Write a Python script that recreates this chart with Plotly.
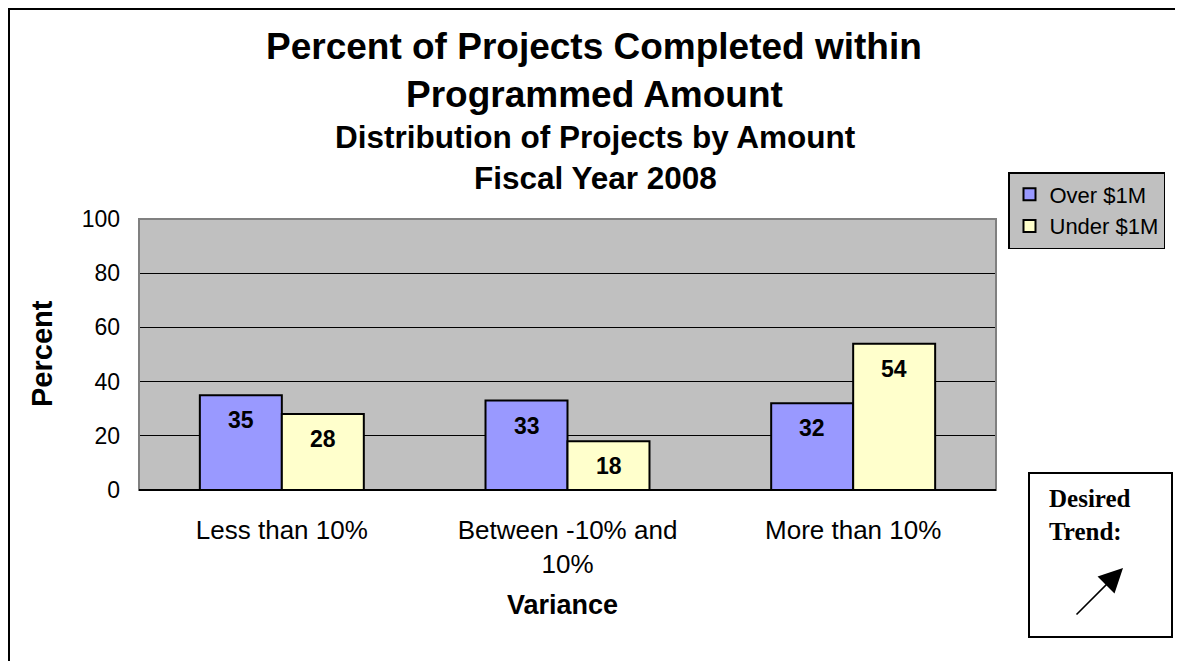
import plotly.graph_objects as go

categories = ["Less than 10%", "Between -10% and<br>10%", "More than 10%"]
over_1m = [35, 33, 32]
under_1m = [28, 18, 54]
series_names = ["Over $1M", "Under $1M"]
y_ticks = [0, 20, 40, 60, 80, 100]

OFF = 8  # page margin around the figure
W, H = 1183 - OFF, 661 - OFF
L, R, T, B = 139 - OFF, 996 - OFF, 219 - OFF, 490 - OFF
pw, ph = R - L, B - T


def px(x):
    return (x - OFF - L) / pw


def py(y):
    return (B - (y - OFF)) / ph


fig = go.Figure()
fig.add_trace(go.Bar(x=categories, y=over_1m, name=series_names[0],
                     marker=dict(color="#9999FF", line=dict(color="black", width=2))))
fig.add_trace(go.Bar(x=categories, y=under_1m, name=series_names[1],
                     marker=dict(color="#FFFFCC", line=dict(color="black", width=2))))

ann = []
for series, shift in ((over_1m, -41), (under_1m, 41)):
    for c, v in zip(categories, series):
        ann.append(dict(x=c, y=v, xref="x", yref="y", text=f"<b>{v}</b>", showarrow=False,
                        xanchor="center", yanchor="middle",
                        xshift=shift, yshift=-25, font=dict(family="Arial", size=23, color="black")))


def label(x, y, text, size, family="Arial", **kw):
    d = dict(x=px(x), y=py(y), xref="paper", yref="paper", text=text, showarrow=False,
             xanchor="center", yanchor="middle", font=dict(family=family, size=size, color="black"))
    d.update(kw)
    return d


ann += [
    label(594, 47, "<b>Percent of Projects Completed within</b>", 37),
    label(594, 94, "<b>Programmed Amount</b>", 37),
    label(595, 137, "<b>Distribution of Projects by Amount</b>", 31.5),
    label(595, 178, "<b>Fiscal Year 2008</b>", 31.5),
    label(562, 605, "<b>Variance</b>", 27),
    label(42, 354, "<b>Percent</b>", 29, textangle=-90),
    label(1047, 483, "<b>Desired<br>Trend:</b>", 25, family="Liberation Serif",
          xanchor="left", yanchor="top", align="left"),
    dict(x=px(1123), y=py(568), ax=-48, ay=48, xref="paper", yref="paper",
         axref="pixel", ayref="pixel", text="", showarrow=True, arrowhead=2, arrowsize=3,
         arrowwidth=1.6, arrowcolor="black"),
]

shapes = [
    dict(type="rect", xref="paper", yref="paper", x0=px(9), x1=px(1200), y0=py(9), y1=py(680),
         line=dict(color="black", width=2), fillcolor="rgba(0,0,0,0)", layer="below"),
    dict(type="rect", xref="paper", yref="paper", x0=px(1029), x1=px(1172), y0=py(473), y1=py(637),
         line=dict(color="black", width=2), fillcolor="white"),
    dict(type="rect", xref="paper", yref="paper", x0=0, x1=1, y0=0, y1=1,
         line=dict(color="#808080", width=2), fillcolor="rgba(0,0,0,0)", layer="above"),
    dict(type="line", xref="paper", yref="paper", x0=0, x1=1, y0=0, y1=0,
         line=dict(color="black", width=2)),
]

fig.update_layout(
    width=W, height=H,
    margin=dict(l=L, r=W - R, t=T, b=H - B, pad=0),
    paper_bgcolor="white", plot_bgcolor="#C0C0C0",
    barmode="group", bargap=0.426, bargroupgap=0,
    font=dict(family="Arial", size=22, color="black"),
    showlegend=True,
    legend=dict(x=px(1008), y=py(172), xanchor="left", yanchor="top",
                bgcolor="#C0C0C0", bordercolor="black", borderwidth=1.5,
                font=dict(family="Arial", size=22, color="black"),
                itemwidth=30, tracegroupgap=0),
    annotations=ann, shapes=shapes,
    xaxis=dict(showgrid=False, showline=False, ticks="", tickfont=dict(size=26),
               ticklabelstandoff=22),
    yaxis=dict(range=[0, 100], tickvals=y_ticks, showgrid=True, gridcolor="black", gridwidth=1,
               zeroline=False, showline=False, ticks="", tickfont=dict(size=23),
               ticklabelstandoff=18),
)

fig.write_html("out.html")
